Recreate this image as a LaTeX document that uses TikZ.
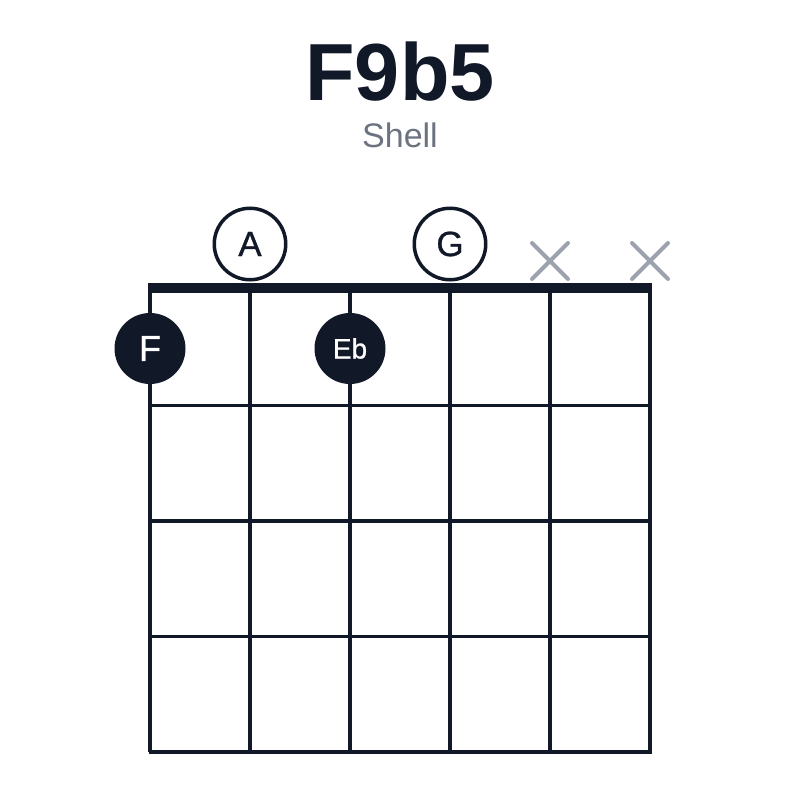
\documentclass[tikz,border=0pt]{standalone}
\usepackage{fontspec}
\setmainfont{Liberation Sans}
\newfontfamily\notefont[FakeBold=0.8]{Liberation Sans}
\usetikzlibrary{shapes.misc}
\definecolor{ink}{RGB}{17,24,39}
\definecolor{subtle}{RGB}{107,114,128}
\definecolor{mutegray}{RGB}{156,163,175}

\begin{document}
\begin{tikzpicture}[
    x=1pt, y=-1pt,
    every node/.style={inner sep=0pt},
    fretline/.style={draw=ink, line width=3.2pt},
    finger/.style={circle, fill=ink, text=white, minimum size=71pt},
    opennote/.style={circle, draw=ink, line width=3.5pt, fill=white, text=ink, minimum size=71.5pt, font=\notefont\fontsize{35}{35}\selectfont},
    mutemark/.style={cross out, draw=mutegray, line width=4pt, line cap=round, minimum size=32pt}
]
\useasboundingbox (0,0) rectangle (800,800);
% title
\node[anchor=base, text=ink, font=\fontsize{81}{81}\bfseries\selectfont] (title) at (400,100) {F9b5};
\node[anchor=base, text=subtle, font=\fontsize{34}{34}\selectfont] (subtitle) at (400,147) {Shell};
% grid
\foreach \i in {0,...,5}
    \draw[fretline] (150+100*\i,290) -- (150+100*\i,752);
\foreach \j in {1,...,4}
    \draw[fretline] (148.5,290+115.5*\j) -- (651.5,290+115.5*\j);
\fill[ink] (148,283) rectangle (652,293);
% open and muted strings
\node[opennote] (s2) at (250,244) {A};
\node[opennote] (s4) at (450,244) {G};
\node[mutemark] (s5) at (550,261) {};
\node[mutemark] (s6) at (650,261) {};
% fretted notes
\node[finger, font=\notefont\fontsize{36}{36}\selectfont] (f1) at (150,348.5) {F};
\node[finger, font=\notefont\fontsize{28}{28}\selectfont] (f3) at (350,348.5) {Eb};
\end{tikzpicture}
\end{document}
